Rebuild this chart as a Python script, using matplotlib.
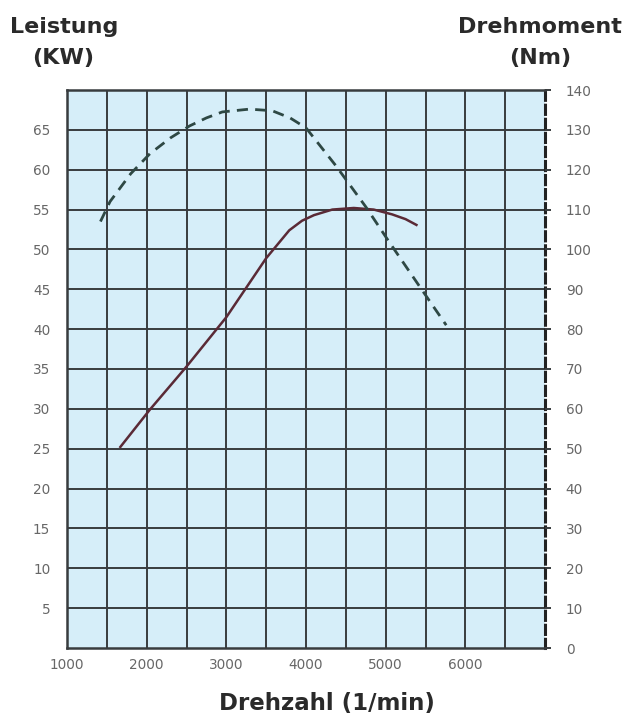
import matplotlib
matplotlib.use("Agg")
import matplotlib.pyplot as plt

# Power curve (kW) vs rpm
power_rpm = [1660, 2040, 2500, 3000, 3500, 3790, 3950, 4100, 4330, 4600, 4850, 5080, 5250, 5400]
power_kw = [25.1, 29.9, 35.3, 41.5, 48.9, 52.4, 53.6, 54.3, 55.0, 55.2, 55.0, 54.4, 53.8, 53.0]

# Torque curve (Nm) vs rpm
torque_rpm = [1420, 1540, 1800, 2040, 2300, 2540, 2750, 2950, 3290, 3575, 3800, 4000, 4375, 4750, 5040, 5450, 5760]
torque_nm = [107, 112, 119, 124, 128, 131, 133, 134.5, 135.2, 134.8, 133, 130.5, 121, 110.7, 102, 90, 81]

x_ticks = [1000, 2000, 3000, 4000, 5000, 6000]
left_ticks = [5, 10, 15, 20, 25, 30, 35, 40, 45, 50, 55, 60, 65]
right_ticks = [0, 10, 20, 30, 40, 50, 60, 70, 80, 90, 100, 110, 120, 130, 140]

W, H = 629, 716
fig = plt.figure(figsize=(W / 100, H / 100), dpi=100)
ax = fig.add_axes([67 / W, 1 - 648 / H, (545 - 67) / W, (648 - 90) / H])
ax.set_facecolor("#d6eef9")
ax.set_xlim(1000, 7000)
ax.set_ylim(0, 70)

gridc = "#383c3e"
for xv in range(1500, 7000, 500):
    ax.axvline(xv, color=gridc, lw=1.4, zorder=1)
for yv in range(5, 70, 5):
    ax.axhline(yv, color=gridc, lw=1.4, zorder=1)

for s in ["left", "bottom", "top"]:
    ax.spines[s].set_color(gridc)
    ax.spines[s].set_linewidth(1.8)
ax.spines["right"].set_color("#222222")
ax.spines["right"].set_linewidth(2.2)
ax.spines["right"].set_linestyle((0, (3, 1.6)))

labc = "#676767"
ax.set_xticks(x_ticks)
ax.set_xticklabels([str(v) for v in x_ticks])
ax.set_yticks(left_ticks)
ax.set_yticklabels([str(v) for v in left_ticks])
ax.tick_params(axis="x", length=0, labelsize=9.8, labelcolor=labc, pad=7)
ax.tick_params(axis="y", length=0, labelsize=9.8, labelcolor=labc, pad=12)

ax.plot(power_rpm, power_kw, color="#5a2a36", lw=1.8, zorder=3, solid_capstyle="butt")

ax2 = ax.twinx()
ax2.set_ylim(0, 140)
ax2.set_yticks(right_ticks)
ax2.set_yticklabels([str(v) for v in right_ticks])
ax2.tick_params(axis="y", length=4, width=1.4, color=gridc, direction="out",
                labelsize=9.8, labelcolor=labc, pad=11)
for s in ["left", "bottom", "top", "right"]:
    ax2.spines[s].set_visible(False)
ax2.plot(torque_rpm, torque_nm, color="#2e4844", lw=2.0, ls=(0, (4, 2.6)), zorder=3)

tk = dict(ha="center", va="baseline", fontsize=16, fontweight="bold", color="#2a2a2a")
fig.text(64 / W, 1 - 33 / H, "Leistung", **tk)
fig.text(63 / W, 1 - 64 / H, "(KW)", **tk)
fig.text(540 / W, 1 - 33 / H, "Drehmoment", **tk)
fig.text(540 / W, 1 - 64 / H, "(Nm)", **tk)
fig.text(327 / W, 1 - 710 / H, "Drehzahl (1/min)", ha="center", va="baseline",
         fontsize=16.5, fontweight="bold", color="#2a2a2a")

fig.savefig("out.png", dpi=100, facecolor="white")
